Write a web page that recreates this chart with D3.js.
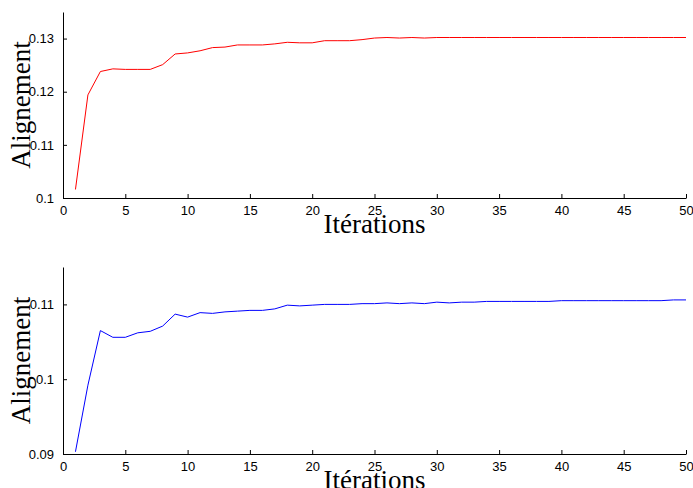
<!DOCTYPE html>
<html>
<head>
<meta charset="utf-8">
<script src="https://cdn.jsdelivr.net/npm/d3@7"></script>
<style>
	body { margin: 0; background: #fff; }
	svg { display: block; }
	.tick text { font-family: "Liberation Sans", Arial, sans-serif; font-size: 13px; fill: #000; }
	.axis-title { font-family: "Liberation Serif", "Times New Roman", serif; font-size: 27px; fill: #000; }
</style>
</head>
<body>
<svg id="chart" width="693" height="488"></svg>
<script>
"use strict";

var iterations = d3.range(1, 51);

var alignRed = [
	0.1016, 0.1194, 0.1238, 0.1243, 0.1242, 0.1242, 0.1242, 0.1251, 0.1271, 0.1273,
	0.1277, 0.1283, 0.1284, 0.1288, 0.1288, 0.1288, 0.1290, 0.1293, 0.1292, 0.1292,
	0.1296, 0.1296, 0.1296, 0.1298, 0.1301, 0.1302, 0.1301, 0.1302, 0.1301, 0.1302,
	0.1302, 0.1302, 0.1302, 0.1302, 0.1302, 0.1302, 0.1302, 0.1302, 0.1302, 0.1302,
	0.1302, 0.1302, 0.1302, 0.1302, 0.1302, 0.1302, 0.1302, 0.1302, 0.1302, 0.1302
];

var alignBlue = [
	0.0903, 0.0992, 0.1065, 0.1056, 0.1056, 0.1062, 0.1064, 0.1071, 0.1087, 0.1083,
	0.1089, 0.1088, 0.1090, 0.1091, 0.1092, 0.1092, 0.1094, 0.1099, 0.1098, 0.1099,
	0.1100, 0.1100, 0.1100, 0.1101, 0.1101, 0.1102, 0.1101, 0.1102, 0.1101, 0.1103,
	0.1102, 0.1103, 0.1103, 0.1104, 0.1104, 0.1104, 0.1104, 0.1104, 0.1104, 0.1105,
	0.1105, 0.1105, 0.1105, 0.1105, 0.1105, 0.1105, 0.1105, 0.1105, 0.1106, 0.1106
];

var xTicks = [0, 5, 10, 15, 20, 25, 30, 35, 40, 45, 50];
var redYTicks = [0.1, 0.11, 0.12, 0.13];
var redYLabels = ["0.1", "0.11", "0.12", "0.13"];
var blueYTicks = [0.09, 0.1, 0.11];
var blueYLabels = ["0.09", "0.1", "0.11"];

var xTitle = "Itérations";
var yTitle = "Alignement";

var svg = d3.select("#chart");

// two stacked panels, same x range
drawPanel({ top: 12, bottom: 198, yDomain: [0.1, 0.135], values: alignRed, color: "#ff0000",
	yTicks: redYTicks, yLabels: redYLabels, titleY: 233 });
drawPanel({ top: 267, bottom: 454, yDomain: [0.09, 0.115], values: alignBlue, color: "#0000ff",
	yTicks: blueYTicks, yLabels: blueYLabels, titleY: 489 });

function drawPanel(p) {
	var x = d3.scaleLinear().domain([0, 50]).range([63, 686]);
	var y = d3.scaleLinear().domain(p.yDomain).range([p.bottom, p.top]);

	var g = svg.append("g");

	var xAxis = d3.axisBottom(x).tickValues(xTicks).tickSize(-4).tickPadding(8).tickSizeOuter(0);
	g.append("g").attr("transform", "translate(0," + p.bottom + ")").call(xAxis);

	var yAxis = d3.axisLeft(y).tickValues(p.yTicks).tickSize(-4).tickPadding(9).tickSizeOuter(0)
		.tickFormat(function (d, i) { return p.yLabels[i]; });
	g.append("g").attr("transform", "translate(63,0)").call(yAxis);

	g.selectAll(".domain").attr("stroke", "#000").attr("stroke-width", 1);
	g.selectAll(".tick line").attr("stroke", "#000");

	var line = d3.line()
		.x(function (d, i) { return x(iterations[i]); })
		.y(function (d) { return y(d); });

	g.append("path")
		.datum(p.values)
		.attr("d", line)
		.attr("fill", "none")
		.attr("stroke", p.color)
		.attr("stroke-width", 1);

	g.append("text")
		.attr("class", "axis-title")
		.attr("x", (x.range()[0] + x.range()[1]) / 2)
		.attr("y", p.titleY)
		.attr("text-anchor", "middle")
		.text(xTitle);

	g.append("text")
		.attr("class", "axis-title")
		.attr("transform", "translate(30," + ((p.top + p.bottom) / 2) + ") rotate(-90)")
		.attr("text-anchor", "middle")
		.text(yTitle);
}
</script>
</body>
</html>
